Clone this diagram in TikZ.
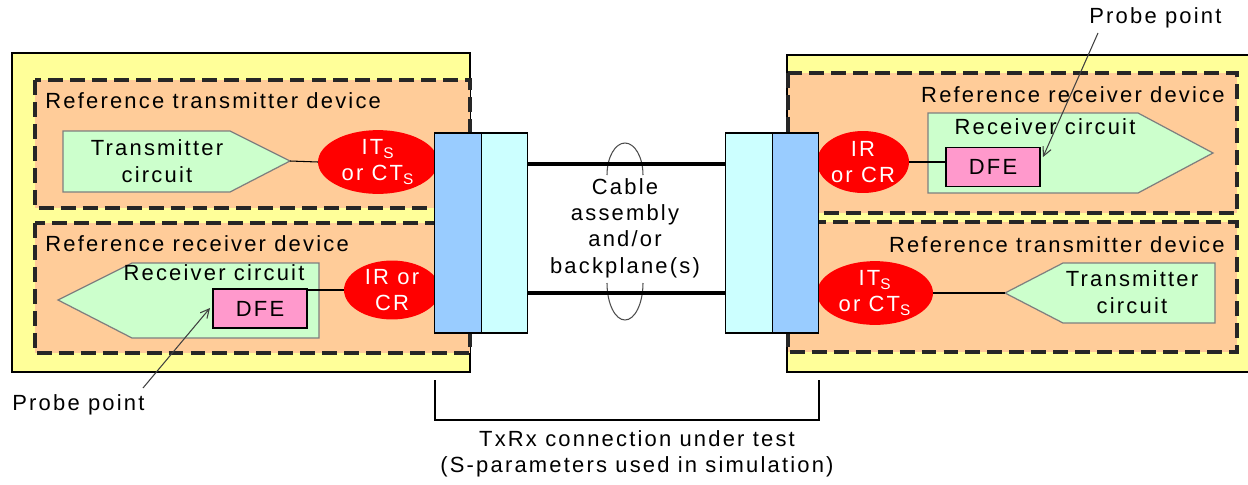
\documentclass[tikz,border=0pt]{standalone}
\usepackage{fontspec}
\setmainfont{Liberation Sans}[LetterSpace=10]
\usetikzlibrary{arrows.meta,positioning,shapes.geometric,calc}
\definecolor{boardyel}{HTML}{FFFF99}
\definecolor{devpeach}{HTML}{FFCC99}
\definecolor{ckgreen}{HTML}{CCFFCC}
\definecolor{dfepink}{HTML}{FF99CC}
\definecolor{conblue}{HTML}{99CCFF}
\definecolor{concyan}{HTML}{CCFFFF}
\definecolor{termred}{HTML}{FF0000}
\definecolor{edgegray}{HTML}{7F7F7F}
\tikzset{
  board/.style={draw=black,fill=boardyel,line width=0.9pt},
  devbox/.style={draw=black!85,fill=devpeach,line width=2pt,
                 dash pattern=on 8.5pt off 4pt},
  circuit/.style={draw=edgegray,fill=ckgreen,line width=0.7pt},
  dfebox/.style={draw=black,fill=dfepink,line width=0.9pt,
                 minimum width=1.88cm,minimum height=0.78cm,inner sep=0pt,
                 outer sep=0pt,font=\lbl},
  term/.style={ellipse,fill=termred,text=white,inner sep=0pt,outer sep=0pt,
               align=center,font=\lbl},
  conn/.style={draw=black,line width=0.8pt,minimum width=0.93cm,
               minimum height=4cm,inner sep=0pt,outer sep=0pt},
  cable/.style={line width=2.4pt,line cap=butt},
  loopline/.style={draw=black!70,line width=0.6pt},
  wire/.style={line width=0.6pt},
  probearr/.style={-{Straight Barb[length=5pt,width=5pt]},line width=0.6pt,
                   color=black!75},
  txt/.style={font=\lbl,inner sep=0pt,align=center}
}
\newcommand{\lbl}{\fontsize{12.5}{15}\selectfont}
\begin{document}
\begin{tikzpicture}[x=0.02cm,y=-0.02cm]
  \useasboundingbox (0,0) rectangle (1248,484);
  \clip (0,0) rectangle (1248,484);
  % boards
  \draw[board] (12,53) rectangle (470,372);
  \draw[board] (787,55) rectangle (1260,372);
  % device boxes
  \draw[devbox] (35,80) rectangle (470,208);
  \draw[devbox] (35,223) rectangle (470,353);
  \draw[devbox] (788,73) rectangle (1237,213);
  \draw[devbox] (788,222) rectangle (1237,352);
  \node[txt,anchor=west] (devTL) at (45,101) {Reference transmitter device};
  \node[txt,anchor=west] (devBL) at (45,244) {Reference receiver device};
  \node[txt,anchor=east] (devTR) at (1225,95) {Reference receiver device};
  \node[txt,anchor=east] (devBR) at (1225,245) {Reference transmitter device};

  % left transmitter
  \draw[circuit] (63,131) -- (230,131) -- (290,161) -- (230,192) -- (63,192) -- cycle;
  \coordinate (txLtip) at (290,161);
  \node[txt] (txL) at (157,161) {Transmitter\\circuit};
  \node[term,minimum width=2.4cm,minimum height=1.12cm] (itsL) at (378,162)
    {IT\textsubscript{S}\\or CT\textsubscript{S}};
  \draw[wire] (txLtip) -- (itsL.west);

  % left receiver
  \draw[circuit] (58,300) -- (132,263) -- (319,263) -- (319,338) -- (132,338) -- cycle;
  \node[txt] (rxL) at (214,273) {Receiver circuit};
  \node[dfebox] (dfeL) at (260,308.5) {DFE};
  \node[term,minimum width=1.92cm,minimum height=1.08cm] (irL) at (392,290)
    {IR or\\CR};
  \draw[wire] (irL.west) -- (irL.west -| dfeL.east);

  % right receiver
  \draw[circuit] (928,113) -- (1138,113) -- (1213,153) -- (1138,193) -- (928,193) -- cycle;
  \node[txt] (rxR) at (1045,127) {Receiver circuit};
  \node[dfebox] (dfeR) at (993,167) {DFE};
  \node[term,minimum width=1.84cm,minimum height=1.24cm] (irR) at (863,162)
    {IR\\or CR};
  \draw[wire] (irR.east) -- (irR.east -| dfeR.west);

  % right transmitter
  \draw[circuit] (1005,293) -- (1063,263) -- (1215,263) -- (1215,323) -- (1063,323) -- cycle;
  \coordinate (txRtip) at (1005,293);
  \node[txt] (txR) at (1132,292) {Transmitter\\circuit};
  \node[term,minimum width=2.32cm,minimum height=1.12cm] (itsR) at (875,293)
    {IT\textsubscript{S}\\or CT\textsubscript{S}};
  \draw[wire] (itsR.east) -- (txRtip);

  % connectors
  \node[conn,fill=conblue] (blueL) at (458,233) {};
  \node[conn,fill=concyan] (cyanL) at (504.5,233) {};
  \node[conn,fill=concyan] (cyanR) at (749,233) {};
  \node[conn,fill=conblue] (blueR) at (795.5,233) {};

  % cable
  \draw[loopline] (607,175) arc[start angle=180,end angle=0,x radius=0.36cm,y radius=0.64cm];
  \draw[loopline] (607,283) arc[start angle=180,end angle=360,x radius=0.36cm,y radius=0.74cm];
  \coordinate (cabA) at (0,164);
  \coordinate (cabB) at (0,293);
  \draw[cable] (cyanL.east |- cabA) -- (cyanR.west |- cabA);
  \draw[cable] (cyanL.east |- cabB) -- (cyanR.west |- cabB);
  \node[txt] (cab) at (625,228) {Cable\\assembly\\and/or\\backplane(s)};

  % probe points
  \node[txt,anchor=west] (probeL) at (12,405) {Probe point};
  \coordinate (probeLtail) at (143,388);
  \draw[probearr] (probeLtail) -- (210,308);
  \node[txt,anchor=west] (probeR) at (1089,18) {Probe point};
  \coordinate (probeRtail) at (1098,33);
  \draw[probearr] (probeRtail) -- (1043,157);

  % test span
  \coordinate (spanL) at (435,380);
  \coordinate (spanR) at (819,380);
  \draw[wire] (spanL) -- ++(0,40) -| (spanR);
  \node[txt] (span) at (637,454) {TxRx connection under test\\(S-parameters used in simulation)};
\end{tikzpicture}
\end{document}
